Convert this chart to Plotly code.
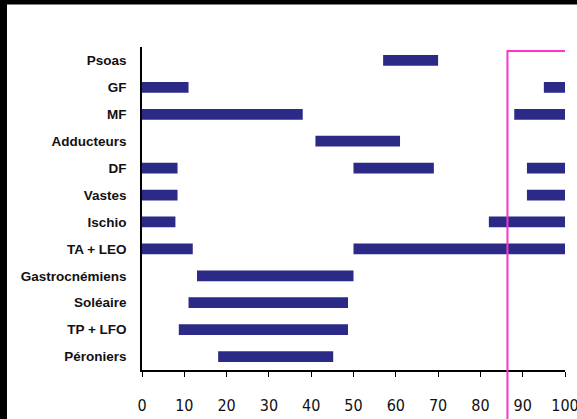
import plotly.graph_objects as go

# Muscles, top to bottom
muscles = ["Psoas", "GF", "MF", "Adducteurs", "DF", "Vastes", "Ischio",
           "TA + LEO", "Gastrocnémiens", "Soléaire", "TP + LFO", "Péroniers"]

# Activity periods (% of gait cycle): one entry per segment
seg_muscle = ["Psoas",
              "GF", "GF",
              "MF", "MF",
              "Adducteurs",
              "DF", "DF", "DF",
              "Vastes", "Vastes",
              "Ischio", "Ischio",
              "TA + LEO", "TA + LEO",
              "Gastrocnémiens",
              "Soléaire",
              "TP + LFO",
              "Péroniers"]
seg_start = [57, 0, 95, 0, 88, 41, 0, 50, 91, 0, 91, 0, 82, 0, 50, 13, 11, 8.7, 18]
seg_end = [70, 11, 100, 38, 100, 61, 8.4, 69, 100, 8.4, 100, 7.9, 100, 12, 100, 50, 48.7, 48.7, 45.2]

x_ticks = [0, 10, 20, 30, 40, 50, 60, 70, 80, 90, 100]

# Highlighted window at the end of the cycle
window = (86.4, 100.5)

W, H = 577, 419
ML, MR, MT, MB = 142, 12, 47, 49
PW, PH = W - ML - MR, H - MT - MB

def px_x(p):
    return (p - ML) / PW

def px_y(p):
    return (H - MB - p) / PH

fig = go.Figure()
fig.add_trace(go.Bar(
    y=seg_muscle,
    x=[e - s for s, e in zip(seg_start, seg_end)],
    base=seg_start,
    orientation="h",
    width=0.4,
    marker=dict(color="#2b2b87", line=dict(width=0)),
    hoverinfo="skip",
))

fig.update_layout(
    width=W, height=H,
    margin=dict(l=ML, r=MR, t=MT, b=MB, autoexpand=False),
    paper_bgcolor="white",
    plot_bgcolor="white",
    showlegend=False,
    barmode="overlay",
    xaxis=dict(
        range=[0, 100],
        automargin=False,
        tickvals=x_ticks,
        ticktext=[str(v) for v in x_ticks],
        showgrid=False, zeroline=False,
        showline=True, linecolor="black", linewidth=1.5,
        ticks="outside", ticklen=5, tickwidth=1.3, tickcolor="black",
        tickfont=dict(family="DejaVu Sans Condensed, sans-serif",
                      size=16, color="#111111"),
        ticklabelstandoff=15,
        ticklabeloverflow="allow",
        fixedrange=True,
    ),
    yaxis=dict(
        categoryorder="array", categoryarray=muscles,
        range=[11.5, -0.5],
        automargin=False,
        showgrid=False, zeroline=False,
        showline=True, linecolor="black", linewidth=1.5,
        ticks="",
        tickfont=dict(family="Liberation Sans, Arial, sans-serif",
                      size=13.5, color="#111111", weight="bold"),
        ticklabelstandoff=11,
        fixedrange=True,
    ),
    shapes=[
        # dark frame strips along the top and left edges
        dict(type="rect", xref="paper", yref="paper",
             x0=px_x(0), x1=px_x(7), y0=px_y(H), y1=px_y(0),
             fillcolor="black", line=dict(width=0), layer="above"),
        dict(type="rect", xref="paper", yref="paper",
             x0=px_x(0), x1=px_x(W), y0=px_y(4.5), y1=px_y(0),
             fillcolor="black", line=dict(width=0), layer="above"),
        # highlighted window
        dict(type="rect", xref="x", yref="paper",
             x0=window[0], x1=window[1], y0=px_y(H + 10), y1=px_y(51),
             fillcolor="rgba(0,0,0,0)", line=dict(color="#ff33cc", width=2),
             layer="above"),
    ],
)

fig.write_html("out.html")
